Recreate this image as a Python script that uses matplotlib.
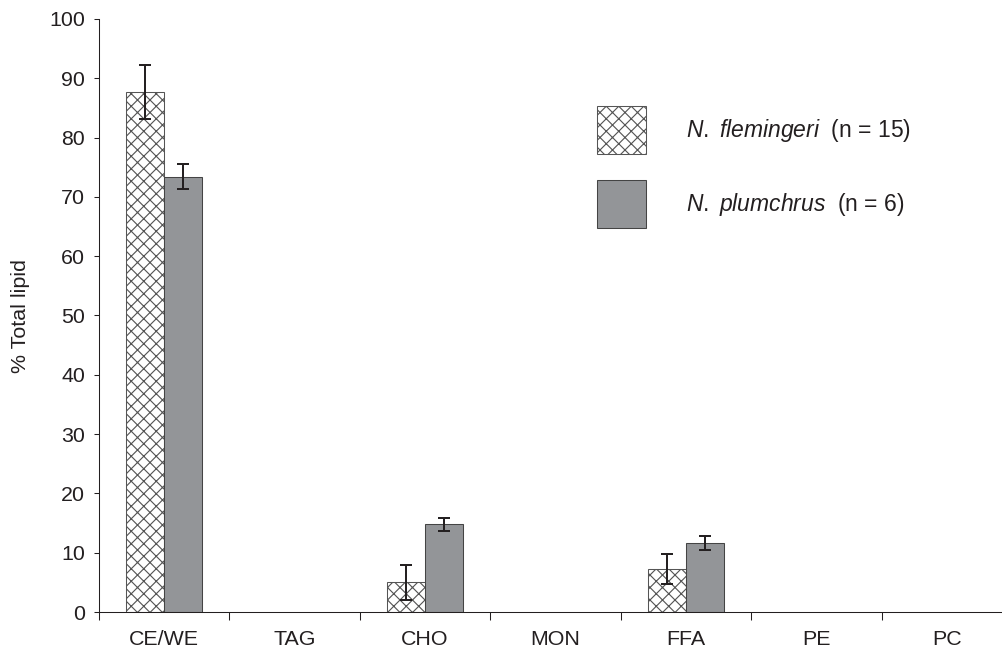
import numpy as np
import matplotlib.pyplot as plt

# Lipid classes and mean composition (% total lipid) with error bars
classes = ['CE/WE', 'TAG', 'CHO', 'MON', 'FFA', 'PE', 'PC']
flemingeri = [87.7, 0, 5.0, 0, 7.2, 0, 0]
flemingeri_err = [4.5, 0, 3.0, 0, 2.5, 0, 0]
plumchrus = [73.4, 0, 14.8, 0, 11.7, 0, 0]
plumchrus_err = [2.1, 0, 1.1, 0, 1.2, 0, 0]

plt.rcParams['font.family'] = ['Liberation Sans', 'DejaVu Sans']
plt.rcParams['mathtext.fontset'] = 'custom'
plt.rcParams['mathtext.rm'] = 'Liberation Sans'
plt.rcParams['mathtext.it'] = 'Liberation Sans:italic'
plt.rcParams['hatch.linewidth'] = 1.1
plt.rcParams['hatch.color'] = '#231f20'

ink = '#231f20'
grey = '#939598'
fs = 20.5
fs_leg = 22

fig = plt.figure(figsize=(1002 / 75, 649 / 75), dpi=75)
ax = fig.add_axes([98.5 / 1002, 1 - 612 / 649, 913.5 / 1002, 593 / 649])

x = np.arange(len(classes))
w = 0.29

# bars only where there is a value
m1 = np.array(flemingeri) > 0
m2 = np.array(plumchrus) > 0
b1 = ax.bar(x[m1] - w / 2, np.array(flemingeri)[m1], w, color='white', edgecolor='#555555',
            linewidth=1.0, hatch='xx', label=r'$\it{N.}$ $\it{flemingeri}$  (n = 15)')
b2 = ax.bar(x[m2] + w / 2, np.array(plumchrus)[m2], w, color=grey, edgecolor='#444444',
            linewidth=1.0, label=r'$\it{N.}$ $\it{plumchrus}$  (n = 6)')
ax.errorbar(x[m1] - w / 2, np.array(flemingeri)[m1], yerr=np.array(flemingeri_err)[m1],
            fmt='none', ecolor=ink, elinewidth=1.9, capsize=5.3, capthick=1.9)
ax.errorbar(x[m2] + w / 2, np.array(plumchrus)[m2], yerr=np.array(plumchrus_err)[m2],
            fmt='none', ecolor=ink, elinewidth=1.9, capsize=5.3, capthick=1.9)

ax.set_xlim(-0.5, len(classes) - 0.5)
ax.set_ylim(0, 100)
ax.set_yticks(np.arange(0, 101, 10))
ax.set_xticks(x)
ax.set_xticklabels(classes)
ax.set_xticks(np.arange(-0.5, len(classes) - 0.5, 1), minor=True)
ax.tick_params(axis='x', which='major', length=0, pad=17, labelsize=fs, colors=ink)
ax.tick_params(axis='x', which='minor', length=7.5, width=1.0, color=ink)
ax.tick_params(axis='y', length=5, width=1.0, pad=8, labelsize=fs, colors=ink)
ax.set_ylabel('% Total lipid', fontsize=fs, color=ink, labelpad=18)

for s in ['top', 'right']:
    ax.spines[s].set_visible(False)
for s in ['left', 'bottom']:
    ax.spines[s].set_color(ink)
    ax.spines[s].set_linewidth(1.0)

leg = ax.legend(loc='upper left', bbox_to_anchor=(0.523, 0.888), frameon=False,
                fontsize=fs_leg, handlelength=2.14, handleheight=2.83,
                handletextpad=1.75, labelspacing=1.14, labelcolor=ink)

fig.savefig('out.png', dpi=75)
